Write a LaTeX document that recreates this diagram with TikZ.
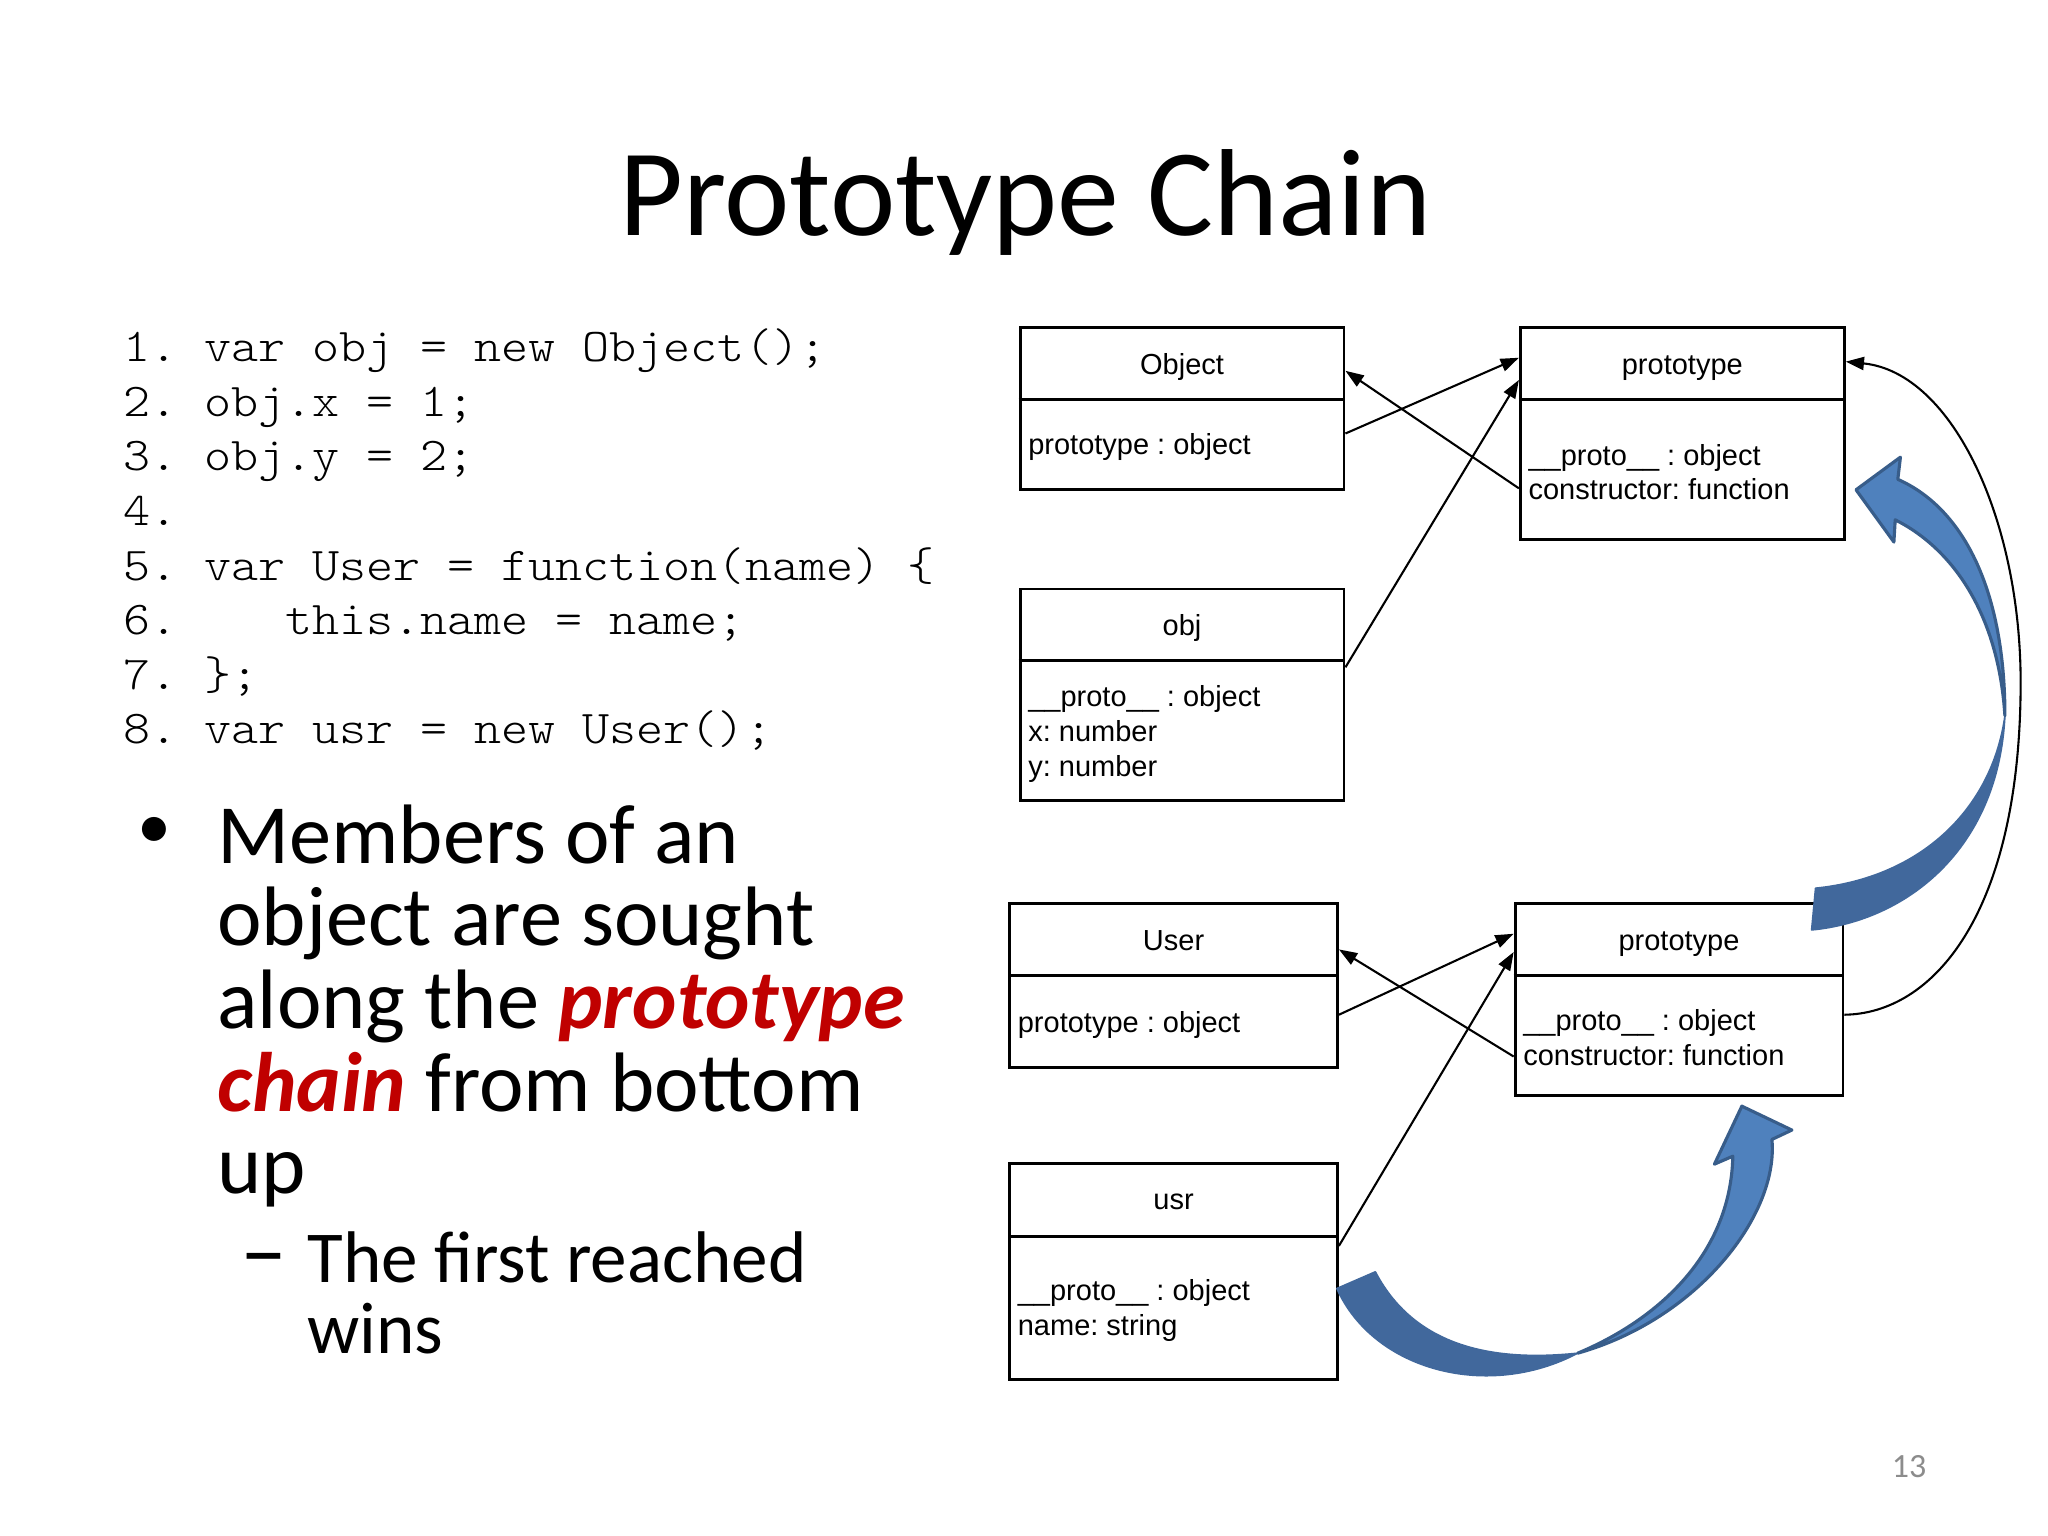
\documentclass[tikz,border=0pt]{standalone}
\usepackage{fontspec}
\setmainfont{Carlito}
\newfontfamily\codefont[Extension=.otf, FakeStretch=1.095]{lmmonolt10-regular}
\newfontfamily\boxfont{Liberation Sans}
\usetikzlibrary{calc,arrows.meta,fit}
\definecolor{chainred}{HTML}{C00000}
\definecolor{arrowfill}{HTML}{4F81BD}
\definecolor{arrowline}{HTML}{385D8A}
\definecolor{arrowdark}{HTML}{41689C}
\definecolor{pagegray}{HTML}{8C8C8C}
\frenchspacing
\begin{document}
\begin{tikzpicture}[x=0.5pt,y=-0.5pt,
  umlbox/.style={draw, line width=1.1pt, inner sep=0pt},
  divider/.style={line width=1.1pt},
  boxtitle/.style={anchor=base, inner sep=0pt, font=\boxfont\fontsize{11.1}{13.3}\selectfont},
  boxattr/.style={anchor=west, inner sep=0pt, align=left, font=\boxfont\fontsize{11.1}{13.3}\selectfont},
  conn/.style={line width=0.8pt, -{Triangle[length=7pt,width=5pt]}},
  codeline/.style={anchor=base west, inner sep=0pt, text=black, font=\codefont\fontsize{18}{20}\selectfont},
  bultext/.style={anchor=base west, inner sep=0pt, font=\fontsize{32.3}{38}\selectfont},
  subtext/.style={anchor=base west, inner sep=0pt, font=\fontsize{28}{33}\selectfont},
  frontband/.style={fill=arrowfill, draw=arrowline, line width=1.2pt, line join=round},
  backband/.style={fill=arrowdark, draw=arrowdark, line width=0.6pt, line join=round}
]
\fill[white] (0,0) rectangle (1568,1176);
\useasboundingbox (0,0) rectangle (1568,1176);

% title
\node[anchor=base, inner sep=0pt, font=\fontsize{47.4}{56}\selectfont] (title) at (785,180) {Prototype Chain};

% code
\node[codeline] (c1) at (94,277.0) {1. var obj = new Object();};
\node[codeline] (c2) at (94,318.8) {2. obj.x = 1;};
\node[codeline] (c3) at (94,360.6) {3. obj.y = 2;};
\node[codeline] (c4) at (94,402.4) {4.};
\node[codeline] (c5) at (94,444.2) {5. var User = function(name) \{};
\node[codeline] (c6) at (94,486.0) {6.~~~~this.name = name;};
\node[codeline] (c7) at (94,527.8) {7. \};};
\node[codeline] (c8) at (94,569.6) {8. var usr = new User();};

% bullet text
\node[inner sep=0pt, font=\fontsize{26}{30}\selectfont] (bul) at (118,638) {•};
\node[bultext] (b1) at (166,661) {Members of an};
\node[bultext] (b2) at (166,724) {object are sought};
\node[bultext] (b3) at (166,787.5) {along the \textcolor{chainred}{\textbf{\textit{prototype}}}};
\node[bultext] (b4) at (166,851) {\textcolor{chainred}{\textbf{\textit{chain}}} from bottom};
\node[bultext] (b5) at (166,914) {up};
\node[anchor=base west, inner sep=0pt, font=\fontsize{36}{40}\selectfont] (dash) at (184,982) {–};
\node[subtext] (s1) at (235,982) {The first reached};
\node[subtext] (s2) at (235,1036) {wins};

% page number
\node[anchor=base west, inner sep=0pt, text=pagegray, font=\fontsize{13}{15}\selectfont] (pg) at (1448,1131) {13};

% boxes
\node[umlbox, fit={(781,251) (1029,375)}] (Obj) {};
\draw[divider] ($(Obj.north west)+(0,56)$) -- ($(Obj.north east)+(0,56)$);
\node[boxtitle] (ObjT) at ($(Obj.north)+(0,37)$) {Object};
\node[boxattr] (ObjA) at ($(Obj.north west)+(7,92.5)$) {prototype : object};

\node[umlbox, fit={(1164,251) (1412,413)}] (PT) {};
\draw[divider] ($(PT.north west)+(0,56)$) -- ($(PT.north east)+(0,56)$);
\node[boxtitle] (PTT) at ($(PT.north)+(0,37)$) {prototype};
\node[boxattr] (PTA) at ($(PT.north west)+(7,111.5)$) {\_\_proto\_\_ : object\\constructor: function};

\node[umlbox, fit={(781,451) (1029,613)}] (ObjI) {};
\draw[divider] ($(ObjI.north west)+(0,56)$) -- ($(ObjI.north east)+(0,56)$);
\node[boxtitle] (ObjIT) at ($(ObjI.north)+(0,37)$) {obj};
\node[boxattr] (ObjIA) at ($(ObjI.north west)+(7,112)$) {\_\_proto\_\_ : object\\x: number\\y: number};

\node[umlbox, fit={(773,692) (1024,817)}] (User) {};
\draw[divider] ($(User.north west)+(0,56)$) -- ($(User.north east)+(0,56)$);
\node[boxtitle] (UserT) at ($(User.north)+(0,37)$) {User};
\node[boxattr] (UserA) at ($(User.north west)+(7,93.5)$) {prototype : object};

\node[umlbox, fit={(1160,692) (1411,839)}] (PB) {};
\draw[divider] ($(PB.north west)+(0,56)$) -- ($(PB.north east)+(0,56)$);
\node[boxtitle] (PBT) at ($(PB.north)+(0,37)$) {prototype};
\node[boxattr] (PBA) at ($(PB.north west)+(7,103.5)$) {\_\_proto\_\_ : object\\constructor: function};

\node[umlbox, fit={(773,891) (1024,1056)}] (Usr) {};
\draw[divider] ($(Usr.north west)+(0,57)$) -- ($(Usr.north east)+(0,57)$);
\node[boxtitle] (UsrT) at ($(Usr.north)+(0,36.5)$) {usr};
\node[boxattr] (UsrA) at ($(Usr.north west)+(7,113.5)$) {\_\_proto\_\_ : object\\name: string};

% connectors (top)
\draw[conn] ($(Obj.north east)+(0,82)$) -- ($(PT.north west)+(0,24)$);
\draw[conn] ($(PT.north west)+(0,124)$) -- ($(Obj.north east)+(0,34)$);
\draw[conn] ($(ObjI.north east)+(0,61)$) -- ($(PT.north west)+(0,41)$);
% connectors (bottom)
\draw[conn] ($(User.north east)+(0,86)$) -- ($(PB.north west)+(0,24)$);
\draw[conn] ($(PB.north west)+(0,118)$) -- ($(User.north east)+(0,36)$);
\draw[conn] ($(Usr.north east)+(0,64)$) -- ($(PB.north west)+(0,38)$);
% prototype -> prototype curve
\draw[conn] ($(PB.north east)+(0,86)$) .. controls (1480,776) and (1545,700) .. (1547,530)
   .. controls (1549,400) and (1495,285) .. ($(PT.north east)+(0,27)$);

% big blue arrow (upper)
\path[backband] (1387,712) .. controls (1460,705) and (1530,650) .. (1535,548)
   .. controls (1525,620) and (1470,672) .. (1390,680) -- cycle;
\path[frontband] (1421,375) -- (1455,350) -- (1453,367)
   .. controls (1505,390) and (1535,455) .. (1535,548)
   .. controls (1530,470) and (1495,420) .. (1451,398) -- (1450,415) -- cycle;

% big blue arrow (lower)
\path[backband] (1023.5,986.5) .. controls (1052,1050) and (1140,1072) .. (1208,1036)
   .. controls (1150,1042) and (1085,1035) .. (1053,973.7) -- cycle;
\path[frontband] (1333.6,846.9) -- (1371.9,865.2) -- (1356.6,872.4)
   .. controls (1362,930) and (1300,1010) .. (1208,1036)
   .. controls (1270,1010) and (1325,960) .. (1326.7,885.2) -- (1312.6,891.3) -- cycle;
\end{tikzpicture}
\end{document}
